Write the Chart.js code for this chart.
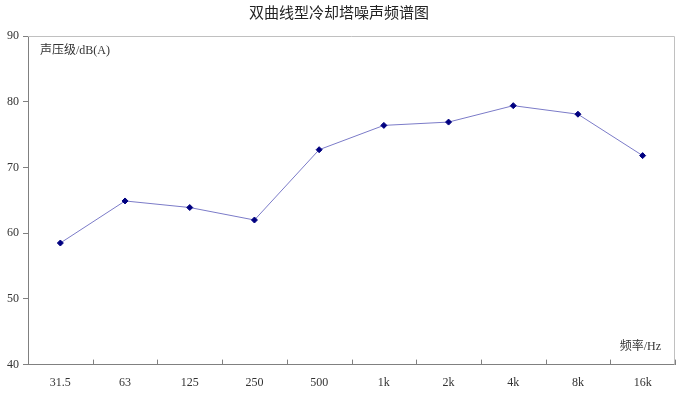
<!DOCTYPE html>
<html>
<head>
<meta charset="utf-8">
<script src="https://cdn.jsdelivr.net/npm/chart.js@4/dist/chart.umd.min.js"></script>
<style>
  html, body { margin: 0; padding: 0; background: #fff; }
  #wrap { width: 683px; height: 395px; }
</style>
</head>
<body>
<div id="wrap"><canvas id="chart" width="683" height="395"></canvas></div>
<script>
var title = "双曲线型冷却塔噪声频谱图";
var categories = ["31.5", "63", "125", "250", "500", "1k", "2k", "4k", "8k", "16k"];
var noise = [58.5, 64.9, 63.9, 62.0, 72.7, 76.4, 76.9, 79.4, 78.1, 71.8];
var yTicks = [40, 50, 60, 70, 80, 90];
var yLabel = "声压级/dB(A)";
var xLabel = "频率/Hz";

var fontFamily = "'Liberation Serif', 'Noto Sans CJK SC', serif";

// frame + inner tick marks + axis captions
var decor = {
  id: "decor",
  afterDraw: function(chart) {
    var ctx = chart.ctx;
    var a = chart.chartArea;
    var xs = chart.scales.x;
    ctx.save();
    // light top/right frame
    ctx.strokeStyle = "#c0c0c0";
    ctx.lineWidth = 1;
    ctx.beginPath();
    ctx.moveTo(a.left, a.top + 0.5);
    ctx.lineTo(a.right - 0.5, a.top + 0.5);
    ctx.lineTo(a.right - 0.5, a.bottom);
    ctx.stroke();
    // x tick marks pointing up
    ctx.strokeStyle = "#808080";
    var n = categories.length;
    for (var i = 1; i <= n; i++) {
      var px = Math.round(xs.left + i * xs.width / n) + 0.5;
      ctx.beginPath();
      ctx.moveTo(px, xs.top);
      ctx.lineTo(px, xs.top - 5);
      ctx.stroke();
    }
    ctx.fillStyle = "#333";
    ctx.font = "12px " + fontFamily;
    ctx.textBaseline = "middle";
    ctx.textAlign = "left";
    ctx.fillText(yLabel, a.left + 12, a.top + 15);
    ctx.textAlign = "right";
    ctx.fillText(xLabel, a.right - 14, a.bottom - 18);
    ctx.restore();
  }
};

var ctx = document.getElementById("chart");
var chart = new Chart(ctx, {
  type: "line",
  data: {
    labels: categories,
    datasets: [
      {
        data: noise,
        borderColor: "#7b7bc8",
        borderWidth: 1,
        pointStyle: "rectRot",
        pointRadius: 3,
        pointBackgroundColor: "#000080",
        pointBorderColor: "#000080",
        tension: 0,
        fill: false
      }
    ]
  },
  options: {
    responsive: false,
    animation: false,
    layout: { padding: { left: 3, right: 8, top: 0, bottom: 2 } },
    plugins: {
      legend: { display: false },
      tooltip: { enabled: false },
      title: {
        display: true,
        text: title,
        color: "#222",
        font: { family: fontFamily, size: 15, weight: "normal" },
        padding: { top: 5, bottom: 13 }
      }
    },
    scales: {
      x: {
        offset: true,
        grid: { display: false },
        border: { display: true, color: "#808080", width: 1 },
        ticks: {
          color: "#333",
          font: { family: fontFamily, size: 12 },
          padding: 3
        }
      },
      y: {
        min: yTicks[0],
        max: yTicks[yTicks.length - 1],
        afterBuildTicks: function(scale) {
          scale.ticks = yTicks.map(function(v) { return { value: v }; });
        },
        grid: {
          drawOnChartArea: false,
          drawTicks: true,
          tickLength: 5,
          color: "#808080"
        },
        border: { display: true, color: "#808080", width: 1 },
        ticks: {
          color: "#333",
          font: { family: fontFamily, size: 12 },
          padding: 4
        }
      }
    }
  },
  plugins: [decor]
});
</script>
</body>
</html>
